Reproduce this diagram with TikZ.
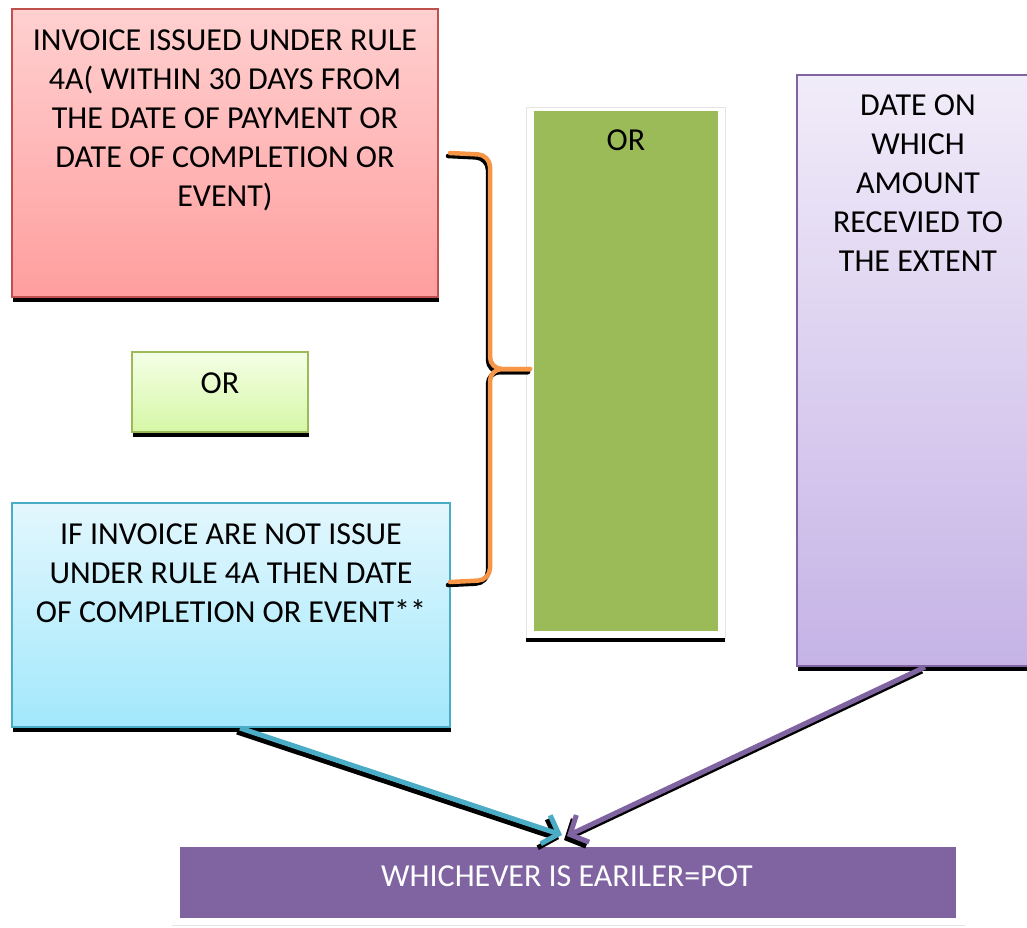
\documentclass[tikz,border=0pt]{standalone}
\usepackage{fontspec}
\setmainfont{Carlito}
\usetikzlibrary{arrows.meta,calc}
\definecolor{redB}{HTML}{C0504D}
\definecolor{redT}{HTML}{FFD0D0}
\definecolor{redL}{HTML}{FF9E9E}
\definecolor{lgB}{HTML}{9BBB59}
\definecolor{lgT}{HTML}{F4FFE6}
\definecolor{lgL}{HTML}{D6F7A6}
\definecolor{blB}{HTML}{4BACC6}
\definecolor{blT}{HTML}{E3F7FD}
\definecolor{blL}{HTML}{A2E8FC}
\definecolor{puB}{HTML}{8064A2}
\definecolor{puT}{HTML}{F1ECF9}
\definecolor{puL}{HTML}{C5B3E6}
\definecolor{grn}{HTML}{9BBB59}
\definecolor{brc}{HTML}{F79646}
\definecolor{frameG}{HTML}{E4E4E4}
\begin{document}
\begin{tikzpicture}[x=1pt,y=-1pt,
  every node/.style={inner sep=0pt,outer sep=0pt},
  box/.style={rectangle,anchor=north west,line width=1.5pt},
  txt/.style={align=center,font=\fontsize{32}{39}\selectfont,anchor=north},
  shadowbar/.style={fill=black},
  conn/.style={line width=5pt,-{Straight Barb[length=14pt,width=30pt,line width=5pt]}},
  connsh/.style={line width=5pt,black,-{Straight Barb[length=14pt,width=30pt,line width=5pt]}},
  bracep/.style={line width=4.5pt,rounded corners=12pt,line cap=round}]
\useasboundingbox (0,0) rectangle (1027,927);
% boxes
\node[box,draw=redB,top color=redT,bottom color=redL,minimum width=426pt,minimum height=288pt] (red) at (12,9) {};
\fill[shadowbar] ($(red.south west)+(1,1)$) rectangle ($(red.south east)+(1,5)$);
\node[box,draw=lgB,top color=lgT,bottom color=lgL,minimum width=176pt,minimum height=80pt] (or1) at (132,352) {};
\fill[shadowbar] ($(or1.south west)+(1,1)$) rectangle ($(or1.south east)+(1,5)$);
\node[box,draw=blB,top color=blT,bottom color=blL,minimum width=438pt,minimum height=224pt] (blue) at (12,503) {};
\fill[shadowbar] ($(blue.south west)+(1,1)$) rectangle ($(blue.south east)+(1,5)$);
\node[box,draw=frameG,line width=0.8pt,fill=white,minimum width=199pt,minimum height=531pt] (frame) at (526,107) {};
\fill[shadowbar] ($(frame.south west)+(0,0)$) rectangle ($(frame.south east)+(0,4)$);
\node[box,fill=grn,minimum width=184pt,minimum height=520pt] (green) at (534,111) {};
\node[box,draw=puB,top color=puT,bottom color=puL,minimum width=240pt,minimum height=591pt] (purple) at (797,75) {};
\fill[shadowbar] ($(purple.south west)+(1,1)$) rectangle ($(purple.south east)+(1,5)$);
\node[box,fill=puB,minimum width=776pt,minimum height=71pt] (pot) at (180,847) {};
\draw[frameG,line width=1pt] (172,925) -- (965,925);
% texts
\node[txt] (tred) at (225,30) {INVOICE ISSUED UNDER RULE\\4A( WITHIN 30 DAYS FROM\\THE DATE OF PAYMENT OR\\DATE OF COMPLETION OR\\EVENT)};
\node[txt] (tor1) at (220,373) {OR};
\node[txt] (tblue) at (231,524) {IF INVOICE ARE NOT ISSUE\\UNDER RULE 4A THEN DATE\\OF COMPLETION OR EVENT**};
\node[txt] (tor2) at (626,130) {OR};
\node[txt] (tpur) at (918,95) {DATE ON\\WHICH\\AMOUNT\\RECEVIED TO\\THE EXTENT};
\node[txt,text=white] (tpot) at (567,866) {WHICHEVER IS EARILER=POT};
% brace
\coordinate (b1) at (450,153);
\coordinate (b2) at (490,155);
\coordinate (bm) at (490,369);
\coordinate (bt) at (530,369);
\coordinate (b3) at (490,580);
\coordinate (b4) at (450,582);
\coordinate (sh) at (-2,3);
\draw[bracep,black] ($(b1)+(sh)$) -- ($(b2)+(sh)$) -- ($(bm)+(sh)$) -- ($(bt)+(sh)$);
\draw[bracep,black] ($(bt)+(sh)$) -- ($(bm)+(sh)$) -- ($(b3)+(sh)$) -- ($(b4)+(sh)$);
\draw[bracep,brc] (b1) -- (b2) -- (bm) -- (bt);
\draw[bracep,brc] (bt) -- (bm) -- (b3) -- (b4);
% arrows
\coordinate (s1) at ($(blue.south west)+(228,1)$);
\coordinate (s2) at ($(purple.south west)+(128,1)$);
\coordinate (e1) at (562,835);
\coordinate (e2) at (567,836);
\coordinate (sa) at (-3,4);
\draw[connsh] ($(s1)+(sa)$) -- ($(e1)+(sa)$);
\draw[connsh] ($(s2)+(sa)$) -- ($(e2)+(sa)$);
\draw[conn,blB] (s1) -- (e1);
\draw[conn,puB] (s2) -- (e2);
\end{tikzpicture}
\end{document}
